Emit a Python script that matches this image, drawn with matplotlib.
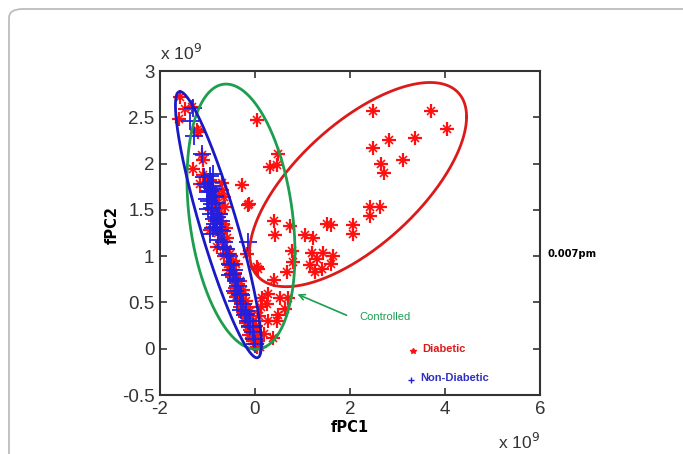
import numpy as np
import matplotlib
matplotlib.use("Agg")
import matplotlib.pyplot as plt
from matplotlib.patches import FancyBboxPatch

plt.rcParams['font.family'] = ['Liberation Sans', 'DejaVu Sans']

# ---------------- data (units of 1e9) ----------------
diab_x = [2.49, 3.71, 4.04, 2.83, 3.37, 2.49, 3.11, 2.65, 2.72, 2.42, 2.63, 2.42,
          2.07, 2.07, 1.51, 1.61, 1.05, 1.23, 0.74, 0.39, 0.42, 0.77, 0.81, 1.19,
          1.44, 1.65, 1.30, 1.16, 1.61, 1.40, 1.26, 0.67, 0.07, 0.39, 0.05, 0.49,
          0.32, 0.46, -0.28, -0.14, 0.04, -0.17,
          0.28, 0.53, 0.63, 0.49, 0.25, 0.28, 0.18, 0.70, 0.46, 0.38, 0.15, 0.12, 0.08,
          -1.30, -1.12, -1.09, -1.19, -1.58, -1.47, -1.33, -1.61, -1.23,
          -1.09, -0.95, -1.02, -0.81, -0.65, -0.63, -0.84, -0.70, -0.13,
          -1.16, -0.95, -0.70, -0.77, -0.67, -0.95, -0.60, -0.81, -0.53, -0.56,
          -0.39, -0.49, -0.32, -0.42, -0.25, -0.39, -0.18, -0.32, -0.11, -0.21,
          -0.04, -0.14, 0.00, -0.07, 0.07, 0.04, 0.10,
          -0.88, -0.75, -0.90, -0.72, -0.85, -0.62, -0.78, -0.70, -0.58, -0.65,
          -0.47, -0.55, -0.42, -0.35, -0.45, -0.28, -0.30, -0.15, -0.25, -0.08,
          -0.18, -0.10, 0.02, -0.05, 0.00, -0.12, 0.05]
diab_y = [2.57, 2.57, 2.37, 2.26, 2.28, 2.17, 2.04, 2.00, 1.90, 1.535, 1.53, 1.43,
          1.34, 1.24, 1.35, 1.34, 1.23, 1.20, 1.33, 1.38, 1.23, 1.06, 0.94, 1.03,
          1.03, 1.005, 0.97, 0.90, 0.92, 0.86, 0.825, 0.83, 0.86, 0.74, 2.47, 2.10,
          1.96, 1.98, 1.77, 1.55, 0.88, 1.02,
          0.59, 0.55, 0.43, 0.36, 0.48, 0.30, 0.16, 0.55, 0.30, 0.12, 0.55, 0.45, 0.35,
          1.94, 2.09, 2.04, 2.34, 2.72, 2.59, 2.61, 2.48, 2.36,
          1.88, 1.82, 1.78, 1.67, 1.64, 1.53, 1.47, 1.79, 1.56,
          1.78, 1.74, 1.71, 1.42, 1.35, 1.28, 1.20, 1.10, 1.02, 0.92,
          0.92, 0.77, 0.735, 0.66, 0.63, 0.555, 0.52, 0.45, 0.41, 0.34,
          0.30, 0.23, 0.195, 0.12, 0.085, 0.015, 0.02,
          1.60, 1.55, 1.50, 1.45, 1.38, 1.30, 1.25, 1.15, 1.08, 1.00,
          0.95, 0.85, 0.82, 0.70, 0.60, 0.58, 0.50, 0.45, 0.40, 0.35,
          0.28, 0.20, 0.25, 0.08, 0.05, 0.15, 0.15]

nondiab_x = [-1.30, -1.37, -1.28, -1.12, -0.88, -0.95, -0.91, -0.98, -0.84, -0.91,
             -0.98, -0.81, -0.84, -0.74, -0.95, -0.77, -0.67, -0.60, -0.53, -0.46,
             -0.39, -0.32, -0.25, -0.18, -0.21, -0.11, -0.04, -0.14,
             -0.92, -1.00, -0.88, -0.85, -0.96, -0.82, -0.90, -0.75, -0.86, -0.72,
             -0.80, -0.70, -0.65, -0.62, -0.55, -0.50, -0.45, -0.52, -0.40, -0.35,
             -0.42, -0.30, -0.38, -0.30, -0.20, -0.15, -0.10, -0.05, -0.02, 0.00,
             -1.05, -0.95, -1.02, -0.93, -0.88, -1.08]
nondiab_y = [2.60, 2.46, 2.30, 2.10, 1.89, 1.87, 1.76, 1.69, 1.64, 1.56,
             1.51, 1.42, 1.35, 1.28, 1.24, 1.17, 1.10, 1.02, 0.92, 0.81,
             0.735, 0.59, 0.48, 0.41, 0.36, 0.30, 0.23, 1.15,
             1.80, 1.75, 1.72, 1.65, 1.60, 1.57, 1.52, 1.45, 1.40, 1.38,
             1.32, 1.27, 1.15, 1.08, 1.00, 0.90, 0.85, 0.80, 0.75, 0.68,
             0.62, 0.58, 0.52, 0.42, 0.38, 0.30, 0.25, 0.18, 0.10, 0.05,
             1.78, 1.70, 1.62, 1.45, 1.30, 1.86]

# ellipses: centre x, centre y, half x-extent, half y-extent, phase (deg)
ell_names = ["diabetic", "controlled", "nondiabetic"]
ell_cx = [2.17, -0.295, -0.77]
ell_cy = [1.773, 1.427, 1.34]
ell_w = [2.284, 1.137, 0.905]
ell_h = [1.103, 1.432, 1.438]
ell_phi = [48.4, 106.0, 153.5]
ell_col = ["#dd1a1a", "#1c9e4e", "#1a1ac4"]

xticks = [-2, 0, 2, 4, 6]
yticks = [-0.5, 0, 0.5, 1, 1.5, 2, 2.5, 3]

RED = "#ff1010"
BLUE = "#2020e0"

fig = plt.figure(figsize=(6.83, 4.54), dpi=100)
fig.patch.set_facecolor("white")

border = FancyBboxPatch((9 / 683, -0.1), 1.2, 1.1 - 9 / 454,
                        boxstyle="round,pad=0,rounding_size=0.02",
                        transform=fig.transFigure, fill=False,
                        edgecolor="#b8b8b8", linewidth=1.2, zorder=0)
fig.patches.append(border)

ax = fig.add_axes([160 / 683, 59 / 454, 380 / 683, 324 / 454])

ax.plot(diab_x, diab_y, linestyle="none", marker="+", markersize=10,
        markeredgewidth=1.6, color=RED, zorder=3)
ax.plot(diab_x, diab_y, linestyle="none", marker="x", markersize=6,
        markeredgewidth=1.2, color=RED, zorder=3)
ax.plot(nondiab_x, nondiab_y, linestyle="none", marker="+", markersize=13,
        markeredgewidth=1.3, color=BLUE, zorder=4)

t = np.linspace(0, 2 * np.pi, 400)
for cx, cy, w, h, ph, c in zip(ell_cx, ell_cy, ell_w, ell_h, ell_phi, ell_col):
    p = np.deg2rad(ph)
    ax.plot(cx + w * np.cos(t), cy + h * np.cos(t - p), color=c, lw=2.0, zorder=5)

ax.set_xlim(-2, 6)
ax.set_ylim(-0.5, 3)
ax.set_xticks(xticks)
ax.set_yticks(yticks)
ax.set_xticklabels([f"{v:g}" for v in xticks])
ax.set_yticklabels([f"{v:g}" for v in yticks])
ax.tick_params(direction="in", top=True, right=True, length=5, width=1.2,
               labelsize=13.5, labelcolor="#333333", color="#333333", pad=4)
for s in ax.spines.values():
    s.set_color("#333333")
    s.set_linewidth(1.5)

ax.text(0.0, 1.025, r"x 10$^{9}$", transform=ax.transAxes, fontsize=12.5,
        color="#333333", ha="left", va="bottom")
ax.text(1.0, -0.115, r"x 10$^{9}$", transform=ax.transAxes, fontsize=12.5,
        color="#333333", ha="right", va="top")

ax.set_xlabel("fPC1", fontsize=10.5, fontweight="bold", labelpad=2,
              family="DejaVu Sans")
ax.set_ylabel("fPC2", fontsize=10.5, fontweight="bold",
              family="DejaVu Sans")
ax.yaxis.set_label_coords(-0.105, 0.525)

ax.annotate("", xy=(0.84, 0.6), xytext=(1.98, 0.35),
            arrowprops=dict(arrowstyle="->", color=ell_col[1], lw=1.2), zorder=6)
ax.text(2.2, 0.34, "Controlled", color=ell_col[1], fontsize=8, va="center")

ax.plot([3.33], [-0.03], linestyle="none", marker="*", markersize=4, color=RED)
ax.text(3.52, 0.0, "Diabetic", color="#dd1a1a", fontsize=8, fontweight="bold",
        va="center")
ax.plot([3.29], [-0.34], linestyle="none", marker="+", markersize=5, color=BLUE)
ax.text(3.48, -0.32, "Non-Diabetic", color="#3030c0", fontsize=8,
        fontweight="bold", va="center")

fig.text(548 / 683, 1 - 254 / 454, "0.007pm", fontsize=7.2, fontweight="bold",
         va="center", ha="left", family="DejaVu Sans")

fig.savefig("out.png", dpi=100)
